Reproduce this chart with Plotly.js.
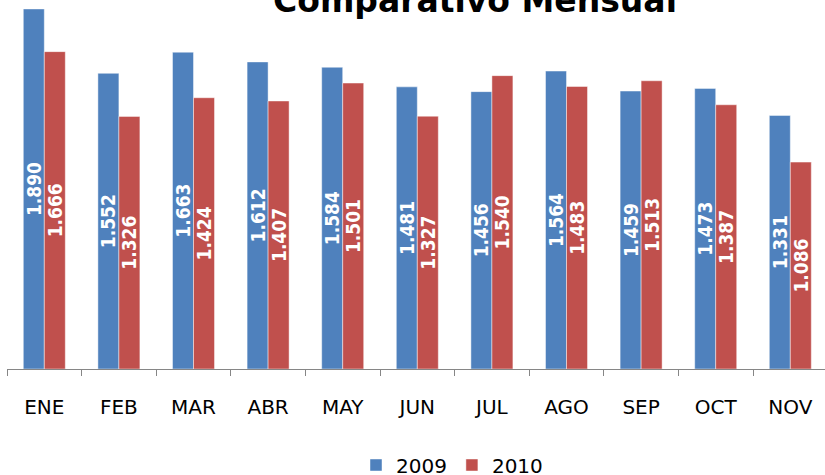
<!DOCTYPE html>
<html>
<head>
<meta charset="utf-8">
<script src="https://cdn.plot.ly/plotly-3.0.1.min.js"></script>
<style>html,body{margin:0;padding:0;background:#fff;}#chart{width:825px;height:475px;}</style>
</head>
<body>
<div id="chart"></div>
<script>
const months = ["ENE","FEB","MAR","ABR","MAY","JUN","JUL","AGO","SEP","OCT","NOV"];
const values2009 = [1890,1552,1663,1612,1584,1481,1456,1564,1459,1473,1331];
const values2010 = [1666,1326,1424,1407,1501,1327,1540,1483,1513,1387,1086];
const seriesNames = ["2009","2010"];
const chartTitle = "Comparativo Mensual";

const labelFont = {family: "DejaVu Sans Condensed, DejaVu Sans, sans-serif", size: 19, color: "#ffffff", weight: "bold"};

function barTrace(name, vals, color) {
  return {
    type: "bar",
    name: name,
    x: months,
    y: vals,
    marker: {color: color, line: {color: "rgba(255,255,255,0.45)", width: 1}},
    texttemplate: "%{y:,.0f}",
    textposition: "inside",
    insidetextanchor: "middle",
    textangle: -90,
    constraintext: "none",
    textfont: labelFont,
    hoverinfo: "x+y"
  };
}

const data = [
  barTrace(seriesNames[0], values2009, "#4F81BD"),
  barTrace(seriesNames[1], values2010, "#C0504D")
];

const layout = {
  width: 825,
  height: 475,
  margin: {l: 7, r: 0, t: 0, b: 106, pad: 0, autoexpand: false},
  paper_bgcolor: "#ffffff",
  plot_bgcolor: "#ffffff",
  separators: ",.",
  title: {
    text: "<b>" + chartTitle + "</b>",
    font: {family: "DejaVu Sans, sans-serif", size: 33, color: "#000000"},
    x: 475/825, xanchor: "center", xref: "container",
    y: 1 - 12/475, yanchor: "bottom", yref: "container"
  },
  bargap: 0.437,
  bargroupgap: 0,
  barmode: "group",
  xaxis: {
    type: "category",
    range: [-0.5, 10.465],
    automargin: false,
    showline: true,
    linecolor: "#868686",
    linewidth: 1,
    ticks: "outside",
    tickson: "boundaries",
    ticklen: 6,
    tickcolor: "#868686",
    tickwidth: 1,
    ticklabelstandoff: 20,
    tickfont: {family: "DejaVu Sans, sans-serif", size: 20, color: "#000000"},
    showgrid: false,
    zeroline: false
  },
  yaxis: {
    range: [0, 1937],
    visible: false,
    automargin: false,
    showgrid: false,
    zeroline: false
  },
  showlegend: true,
  legend: {
    orientation: "h",
    x: 452/825,
    xanchor: "center",
    xref: "container",
    y: (475 - 465) / 475,
    yanchor: "middle",
    yref: "container",
    font: {family: "DejaVu Sans, sans-serif", size: 20, color: "#000000"},
    bgcolor: "rgba(0,0,0,0)"
  }
};

Plotly.newPlot("chart", data, layout, {displayModeBar: false, staticPlot: true});
</script>
</body>
</html>
